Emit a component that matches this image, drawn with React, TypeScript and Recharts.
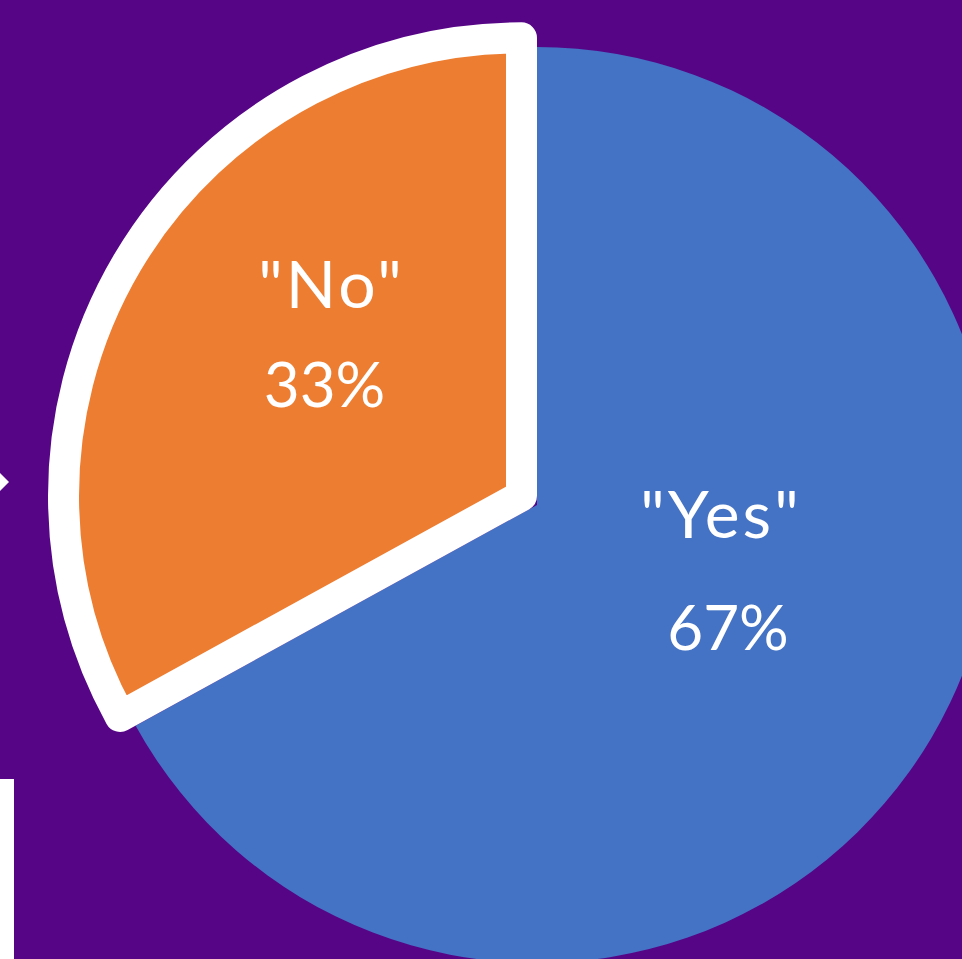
import { PieChart, Pie, Cell } from 'recharts'

const answers = ['"Yes"', '"No"']
const shares = [67, 33]
const sliceColors = ['#4472C4', '#ED7D31']

const W = 962
const H = 959
const CX = 537
const CY = 505
const R = 458
const EXPLODED = 1
const EXPLODE_BY = 18

const data = answers.map((name, i) => ({ name, value: shares[i] }))
const total = shares.reduce((a, b) => a + b, 0)

// mid angle of the exploded slice (clockwise from 12 o'clock)
const before = shares.slice(0, EXPLODED).reduce((a, b) => a + b, 0)
const midDeg = 90 - (360 * (before + shares[EXPLODED] / 2)) / total
const ox = CX + EXPLODE_BY * Math.cos((midDeg * Math.PI) / 180)
const oy = CY - EXPLODE_BY * Math.sin((midDeg * Math.PI) / 180)

// text baselines, relative to each slice's own centre: [name, percent]
const labelSpots = [
    [[184, 33], [191, 145]],
    [[-190, -188], [-197, -89]],
]

const font = 'Lato, "Open Sans", sans-serif'

function makeLabel(which: number, cx: number, cy: number) {
    return (props: any) => {
        const i = props.index
        if (i !== which) return null
        const [l1, l2] = labelSpots[i]
        const pct = Math.round((shares[i] / total) * 100)
        return (
            <g key={`lbl-${i}`}>
                <text x={cx + l1[0]} y={cy + l1[1]} textAnchor="middle" fill="#fff" fontSize={66} letterSpacing={3} fontFamily={font}>
                    {answers[i]}
                </text>
                <text x={cx + l2[0]} y={cy + l2[1]} textAnchor="middle" fill="#fff" fontSize={62} fontFamily={font}>
                    {`${pct}%`}
                </text>
            </g>
        )
    }
}

export default function App() {
    return (
        <div style={{ position: 'relative', width: W, height: H, background: '#560587', overflow: 'hidden' }}>
            <style>{'body{margin:0}'}</style>
            <PieChart width={W} height={H} margin={{ top: 0, right: 0, bottom: 0, left: 0 }}>
                <Pie
                    data={data}
                    dataKey="value"
                    nameKey="name"
                    cx={CX}
                    cy={CY}
                    outerRadius={R}
                    startAngle={90}
                    endAngle={-270}
                    stroke="none"
                    labelLine={false}
                    label={makeLabel(0, CX, CY)}
                    isAnimationActive={false}
                >
                    {data.map((d, i) => (
                        <Cell key={d.name} fill={i === EXPLODED ? 'none' : sliceColors[i]} stroke="none" />
                    ))}
                </Pie>
                <Pie
                    data={data}
                    dataKey="value"
                    nameKey="name"
                    cx={ox}
                    cy={oy}
                    outerRadius={R}
                    startAngle={90}
                    endAngle={-270}
                    labelLine={false}
                    label={makeLabel(EXPLODED, ox, oy)}
                    isAnimationActive={false}
                >
                    {data.map((d, i) => (
                        <Cell
                            key={d.name}
                            fill={i === EXPLODED ? sliceColors[i] : 'none'}
                            stroke={i === EXPLODED ? '#ffffff' : 'none'}
                            strokeWidth={31}
                            strokeLinejoin="round"
                        />
                    ))}
                </Pie>
            </PieChart>
            <svg width={W} height={H} style={{ position: 'absolute', left: 0, top: 0, pointerEvents: 'none' }}>
                <polygon points="0,473 9,482 0,491" fill="#fff" />
                <rect x={0} y={779} width={14} height={H - 779} fill="#fff" />
            </svg>
        </div>
    )
}
